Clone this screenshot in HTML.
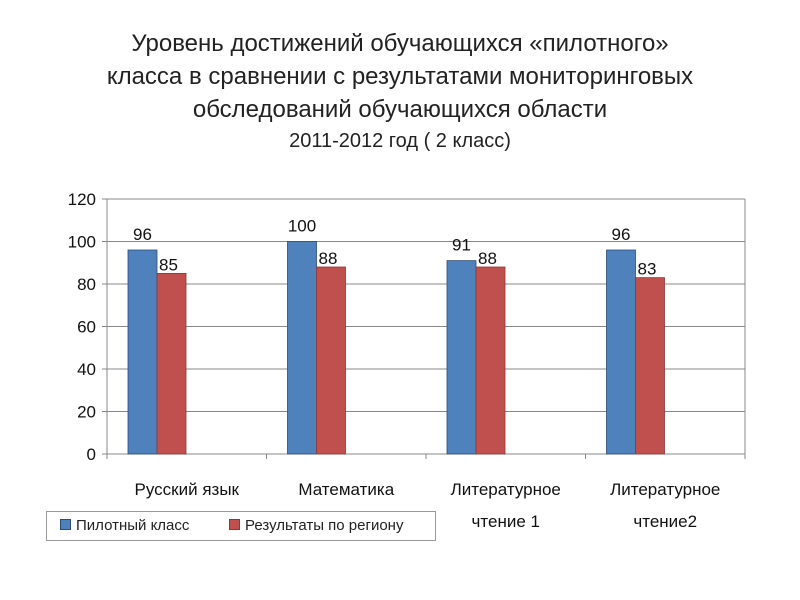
<!DOCTYPE html>
<html><head><meta charset="utf-8"><style>
body{margin:0;width:800px;height:600px;background:#fff;font-family:"Liberation Sans","DejaVu Sans",sans-serif;overflow:hidden}
.t{position:absolute;left:0;width:800px;text-align:center;color:#222}
</style></head><body>
<div class="t" style="top:27px;font-size:24px;line-height:33px">Уровень достижений обучающихся «пилотного»<br>класса в сравнении с результатами мониторинговых<br>обследований обучающихся области</div>
<div class="t" style="top:130px;font-size:20px">2011-2012 год ( 2 класс)</div>
<svg id="c" width="800" height="600" style="position:absolute;left:0;top:0"></svg>
<script>
const categories=[["Русский язык"],["Математика"],["Литературное","чтение 1"],["Литературное","чтение2"]];
const pilot=[96,100,91,96];
const region=[85,88,88,83];
const ticks=[0,20,40,60,80,100,120];
const svg=document.getElementById('c');const NS='http://www.w3.org/2000/svg';
const X0=107,X1=745,Y0=454,Y1=199,MAX=120;
const y=v=>Y0-(v/MAX)*(Y0-Y1);
const gw=(X1-X0)/categories.length;
function mk(t,a,txt){const e=document.createElementNS(NS,t);for(const k in a)e.setAttribute(k,a[k]);if(txt!==undefined)e.textContent=txt;svg.appendChild(e);return e;}
ticks.forEach(v=>{
 const l=mk('line',{x1:X0-5,x2:X1,y1:y(v),y2:y(v),stroke:'#888','stroke-width':1});
 
 
 const t=mk('text',{x:X0-11,y:y(v)+6,'text-anchor':'end','font-size':17,fill:'#111'},v);
 
 
});
mk('line',{x1:X0,x2:X0,y1:Y1,y2:Y0,stroke:'#888'});
mk('line',{x1:X1,x2:X1,y1:Y1,y2:Y0,stroke:'#888'});
for(let i=0;i<=categories.length;i++){mk('line',{x1:X0+i*gw,x2:X0+i*gw,y1:Y0,y2:Y0+5,stroke:'#888'});}
categories.forEach((c,i)=>{
 const gx=X0+i*gw, bx=gx+21, bw=29;
 const b1=mk('rect',{x:bx,y:y(pilot[i]),width:bw,height:Y0-y(pilot[i]),fill:'#4f81bd',stroke:'#2c4d75','stroke-width':0.8});
 
 
 const b2=mk('rect',{x:bx+bw,y:y(region[i]),width:bw,height:Y0-y(region[i]),fill:'#c0504d',stroke:'#8c3836','stroke-width':0.8});
 
 
 const l1=mk('text',{x:bx+bw/2,y:y(pilot[i])-10,'text-anchor':'middle','font-size':17,fill:'#111'},pilot[i]);
 
 
 const l2=mk('text',{x:bx+bw+2,y:y(region[i])-3,'font-size':17,fill:'#111'},region[i]);
 
 
 c.forEach((s,j)=>{const t=mk('text',{x:gx+gw/2,y:495+j*32,'text-anchor':'middle','font-size':17,fill:'#111'},s);
 
 });
});
</script>
<div style="position:absolute;left:46px;top:511px;width:388px;height:28px;border:1px solid #999;font-size:15px;color:#222;line-height:28px">
 <span style="position:absolute;left:13px"><span style="display:inline-block;width:9px;height:9px;background:#4f81bd;border:1px solid #2c4d75;margin-right:5px"></span>Пилотный класс</span>
 <span style="position:absolute;left:182px"><span style="display:inline-block;width:9px;height:9px;background:#c0504d;border:1px solid #8c3836;margin-right:5px"></span>Результаты по региону</span>
</div>
</body></html>
